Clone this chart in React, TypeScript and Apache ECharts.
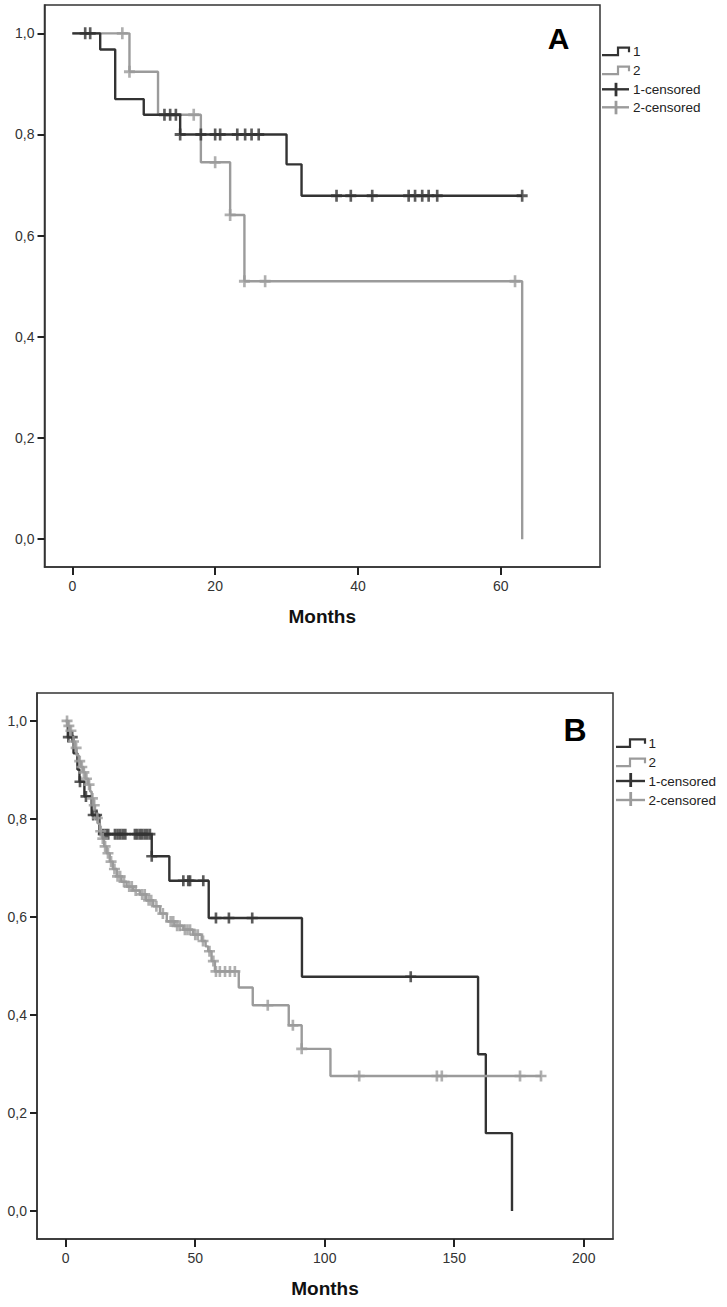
import React, { useEffect, useRef } from "react";
import * as echarts from "echarts";

// ---------- Panel A data (months, survival) ----------
const A1_EVENT_T = [3.9, 6.0, 10.0, 15.1, 30.0, 32.1];
const A1_EVENT_S = [0.968, 0.87, 0.839, 0.8, 0.741, 0.679];
const A1_CENS = [1.8, 2.5, 12.9, 13.7, 14.5, 15.1, 18.0, 20.0, 20.7, 23.1, 24.2, 25.1, 26.1, 37.0, 39.0, 42.0, 47.1, 48.0, 49.0, 49.9, 51.1, 63.0];

const A2_EVENT_T = [8.0, 12.0, 18.0, 22.1, 24.1, 63.0];
const A2_EVENT_S = [0.924, 0.839, 0.745, 0.641, 0.51, 0.0];
const A2_CENS = [7.0, 8.0, 17.0, 20.0, 22.1, 24.1, 27.0, 62.0];

// ---------- Panel B data ----------
const B1_EVENT_T = [0.8, 3.0, 4.5, 5.3, 7.2, 10.0, 13.0, 33.2, 40.0, 55.2, 91.2, 159.2, 162.2, 172.3];
const B1_EVENT_S = [0.967, 0.934, 0.901, 0.876, 0.846, 0.808, 0.769, 0.724, 0.674, 0.598, 0.478, 0.32, 0.159, 0.0];
const B1_CENS = [1.0, 2.5, 5.5, 7.8, 10.6, 11.9, 14.5, 15.5, 16.4, 19.0, 20.0, 21.0, 22.0, 23.0, 26.7, 27.6, 28.6, 29.5, 30.5, 31.5, 32.5, 33.2, 45.4, 47.3, 48.0, 53.1, 58.0, 63.0, 72.0, 133.2];

const B2_EVENT_T = [0.8, 1.5, 2.2, 2.9, 3.6, 4.2, 5.0, 5.8, 6.8, 7.6, 8.7, 9.4, 10.0, 10.7, 11.3, 12.0, 12.5, 13.2, 14.0, 14.8, 15.8, 17.0, 18.2, 19.7, 21.5, 23.5, 26.0, 28.6, 31.0, 33.8, 36.4, 39.0, 42.0, 45.4, 49.2, 52.5, 54.0, 55.0, 56.3, 57.6, 66.8, 72.2, 86.1, 91.1, 102.2];
const B2_EVENT_S = [0.99, 0.98, 0.97, 0.958, 0.945, 0.93, 0.918, 0.906, 0.895, 0.882, 0.87, 0.856, 0.842, 0.828, 0.815, 0.802, 0.79, 0.775, 0.76, 0.744, 0.73, 0.713, 0.698, 0.683, 0.672, 0.662, 0.654, 0.646, 0.634, 0.622, 0.607, 0.591, 0.582, 0.574, 0.564, 0.551, 0.54, 0.53, 0.51, 0.489, 0.456, 0.42, 0.379, 0.331, 0.2756];
const B2_CENS = [0.5, 1.2, 2.0, 3.0, 4.0, 5.4, 6.2, 7.0, 8.0, 9.0, 10.3, 11.0, 12.2, 13.5, 14.3, 15.2, 16.3, 17.5, 18.8, 20.0, 21.0, 22.5, 24.5, 25.5, 27.0, 29.5, 30.5, 32.0, 33.0, 35.0, 37.5, 40.5, 41.5, 43.0, 44.0, 46.0, 47.0, 48.0, 50.0, 51.0, 53.0, 55.5, 57.0, 58.0, 59.5, 61.5, 63.4, 65.3, 78.0, 87.7, 91.1, 113.3, 143.3, 145.2, 175.4, 183.5];

const Y_TICKS = [0, 0.2, 0.4, 0.6, 0.8, 1.0];
const A_X_TICKS = [0, 20, 40, 60];
const B_X_TICKS = [0, 50, 100, 150, 200];
const LEGEND_LABELS = ["1", "2", "1-censored", "2-censored"];

const DARK = "#333333";
const LIGHT = "#9b9b9b";
const FONT = "'Liberation Sans', Arial, sans-serif";
const PLUS = "path://M3.8,0H6.2V3.8H10V6.2H6.2V10H3.8V6.2H0V3.8H3.8Z";

function buildSteps(evT: number[], evS: number[], cens: number[]) {
  const pts: number[][] = [[0, 1]];
  let s = 1;
  evT.forEach((t, i) => {
    pts.push([t, s]);
    s = evS[i];
    pts.push([t, s]);
  });
  const end = Math.max(...cens, evT[evT.length - 1]);
  if (end > pts[pts.length - 1][0]) pts.push([end, s]);
  return pts;
}

function survAt(evT: number[], evS: number[], t: number) {
  let s = 1;
  evT.forEach((et, i) => {
    if (et <= t + 1e-9) s = evS[i];
  });
  return s;
}

function censPts(evT: number[], evS: number[], cens: number[]) {
  return cens.map((t) => [t, survAt(evT, evS, t)]);
}

const fmt = (v: number) => v.toFixed(1).replace(".", ",");

function xAxisDef(idx: number, min: number, max: number, ticks: number[]) {
  return {
    type: "value",
    gridIndex: idx,
    min,
    max,
    name: "Months",
    nameLocation: "middle",
    nameGap: 40,
    nameTextStyle: { fontFamily: FONT, fontWeight: "bold", fontSize: 19, color: "#111" },
    axisLine: { show: true, onZero: false, lineStyle: { color: "#333", width: 1.5 } },
    axisTick: { show: true, length: 8, customValues: ticks, lineStyle: { color: "#222", width: 2 } },
    axisLabel: { customValues: ticks, margin: 12, fontFamily: FONT, fontSize: 14, color: "#333" },
    splitLine: { show: false },
  };
}

function yAxisDef(idx: number, min: number, max: number) {
  return {
    type: "value",
    gridIndex: idx,
    min,
    max,
    axisLine: { show: true, onZero: false, lineStyle: { color: "#333", width: 1.5 } },
    axisTick: { show: true, length: 7, customValues: Y_TICKS, lineStyle: { color: "#222", width: 2 } },
    axisLabel: { customValues: Y_TICKS, margin: 10, fontFamily: FONT, fontSize: 14, color: "#333", formatter: fmt },
    splitLine: { show: false },
  };
}

function lineSeries(idx: number, data: number[][], color: string, z: number) {
  return {
    type: "line",
    xAxisIndex: idx,
    yAxisIndex: idx,
    data,
    showSymbol: false,
    symbol: "none",
    lineStyle: { color, width: 2.4 },
    z,
    silent: true,
  };
}

function markSeries(idx: number, data: number[][], color: string, size: number[], z: number) {
  return {
    type: "scatter",
    xAxisIndex: idx,
    yAxisIndex: idx,
    data,
    symbol: PLUS,
    symbolSize: size,
    itemStyle: { color },
    z,
    silent: true,
  };
}

function legendGraphics(x0: number, xStep: number, x1: number, textX: number, rows: number[], plusTop: number, plusBot: number, plusX: number) {
  const els: any[] = [];
  const colors = [DARK, LIGHT, DARK, LIGHT];
  rows.forEach((cy, i) => {
    if (i < 2) {
      els.push({
        type: "polyline",
        shape: { points: [[x0, cy + 3.5], [xStep, cy + 3.5], [xStep, cy - 4], [x1, cy - 4], [x1, cy + 0.5]] },
        style: { stroke: colors[i], lineWidth: 2.2, fill: null },
      });
    } else {
      els.push({ type: "line", shape: { x1: x0, y1: cy, x2: x1, y2: cy }, style: { stroke: colors[i], lineWidth: 2.4 } });
      els.push({ type: "line", shape: { x1: plusX, y1: cy + plusTop, x2: plusX, y2: cy + plusBot }, style: { stroke: colors[i], lineWidth: 2.8 } });
    }
    els.push({
      type: "text",
      style: { text: LEGEND_LABELS[i], x: textX, y: cy, align: "left", verticalAlign: "middle", font: `13.5px ${FONT}`, fill: "#222" },
    });
  });
  return els;
}

export default function App() {
  const ref = useRef<HTMLDivElement>(null);
  useEffect(() => {
    if (!ref.current) return;
    const chart = echarts.init(ref.current, undefined, { renderer: "svg" });
    const option: any = {
      animation: false,
      backgroundColor: "#ffffff",
      grid: [
        { left: 44.5, top: 5, width: 555.5, height: 562, show: true, borderColor: "#333", borderWidth: 1.5, backgroundColor: "transparent", containLabel: false },
        { left: 37, top: 693, width: 576, height: 546, show: true, borderColor: "#333", borderWidth: 1.5, backgroundColor: "transparent", containLabel: false },
      ],
      xAxis: [xAxisDef(0, -3.9, 73.9, A_X_TICKS), xAxisDef(1, -11.1, 211.3, B_X_TICKS)],
      yAxis: [yAxisDef(0, -0.055, 1.056), yAxisDef(1, -0.057, 1.057)],
      series: [
        lineSeries(0, buildSteps(A1_EVENT_T, A1_EVENT_S, A1_CENS), DARK, 3),
        lineSeries(0, buildSteps(A2_EVENT_T, A2_EVENT_S, A2_CENS), LIGHT, 2),
        markSeries(0, censPts(A1_EVENT_T, A1_EVENT_S, A1_CENS), DARK, [11, 12], 5),
        markSeries(0, censPts(A2_EVENT_T, A2_EVENT_S, A2_CENS), LIGHT, [11, 12], 4),
        lineSeries(1, buildSteps(B1_EVENT_T, B1_EVENT_S, B1_CENS), DARK, 2),
        lineSeries(1, buildSteps(B2_EVENT_T, B2_EVENT_S, B2_CENS), LIGHT, 3),
        markSeries(1, censPts(B1_EVENT_T, B1_EVENT_S, B1_CENS), DARK, [11, 11], 4),
        markSeries(1, censPts(B2_EVENT_T, B2_EVENT_S, B2_CENS), LIGHT, [11, 11], 5),
      ],
      graphic: [
        { type: "text", style: { text: "A", x: 558.5, y: 38, align: "center", verticalAlign: "middle", font: `bold 30px ${FONT}`, fill: "#000" } },
        { type: "text", style: { text: "B", x: 575, y: 730, align: "center", verticalAlign: "middle", font: `bold 32px ${FONT}`, fill: "#000" } },
        ...legendGraphics(602, 618, 629, 633, [51.7, 70.7, 89.3, 107.3], -6.5, 7, 616),
        ...legendGraphics(616, 630, 645, 648.5, [743.3, 762.7, 781, 800], -8, 6, 630.7),
      ],
    };
    chart.setOption(option);
    return () => chart.dispose();
  }, []);
  return <div ref={ref} style={{ position: "absolute", left: 0, top: 0, width: 727, height: 1307 }} />;
}
